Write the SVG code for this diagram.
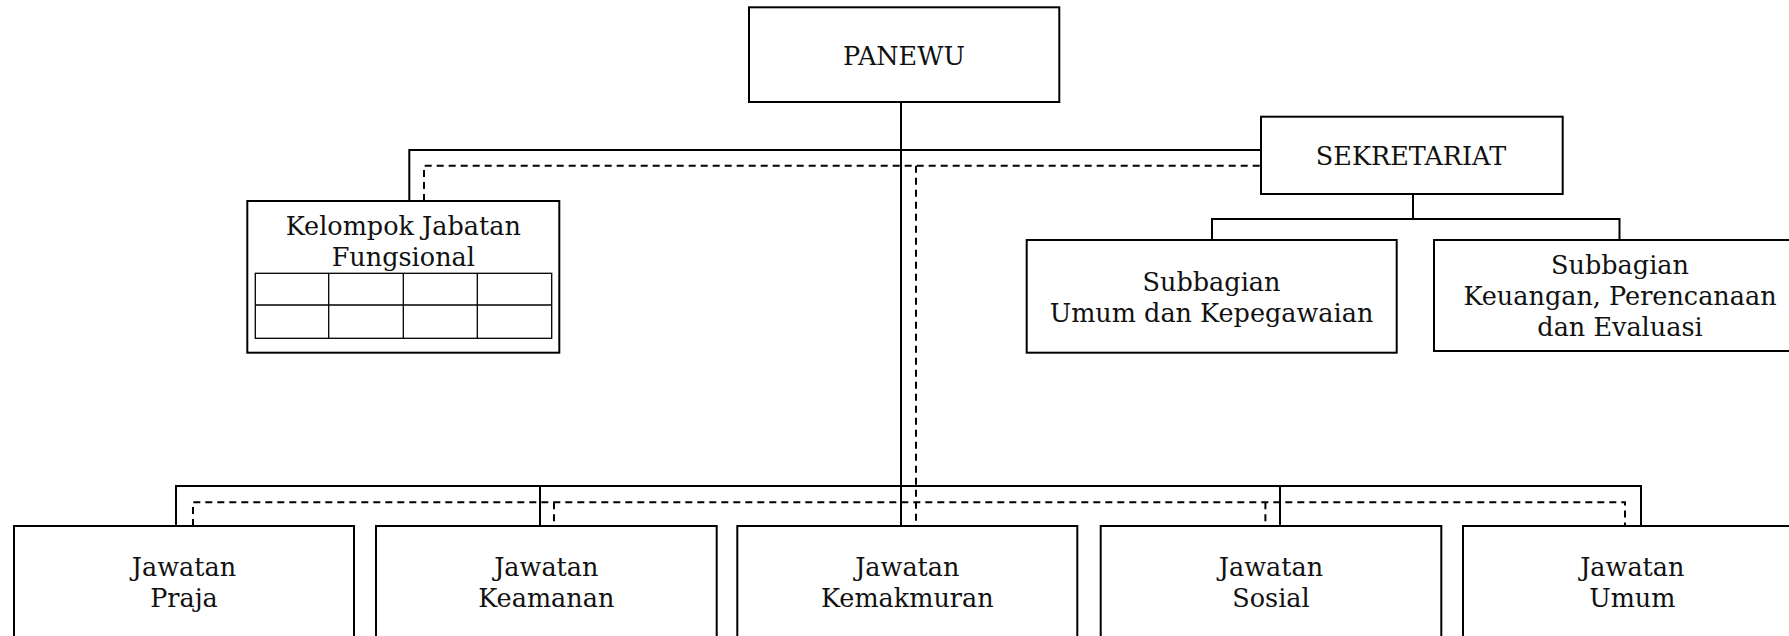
<svg xmlns="http://www.w3.org/2000/svg" width="1789" height="636" viewBox="0 0 1789 636">
<style>
.box{fill:#fff;stroke:#000;stroke-width:2}
.ln{fill:none;stroke:#000;stroke-width:2}
.dash{fill:none;stroke:#000;stroke-width:2;stroke-dasharray:7 5}
.grid{fill:none;stroke:#000;stroke-width:1.3}
text{font-family:"DejaVu Serif","Liberation Serif",serif;font-size:25.5px;fill:#111;text-anchor:middle}
</style>
<rect width="1789" height="636" fill="#fff"/>
<g id="connectors">
<path class="ln" d="M901 102V526"/>
<path class="ln" d="M409.3 201V150H1261"/>
<path class="dash" d="M424 201V165.7H1261"/>
<path class="dash" d="M916 165.7V526"/>
<path class="ln" d="M1413 194V219M1212 240V219H1619.5V240"/>
<path class="ln" d="M176 526V486H1641V526M540 486V526M1280 486V526"/>
<path class="dash" d="M193 526V502.3H1625V526M554 502.3V526M1265.4 502.3V526"/>
</g>
<g id="panewu">
<rect class="box" x="749" y="7.3" width="310.3" height="94.7"/>
<text x="904" y="65">PANEWU</text>
</g>
<g id="sekretariat">
<rect class="box" x="1261" y="116.7" width="301.7" height="77.3"/>
<text x="1411" y="165">SEKRETARIAT</text>
</g>
<g id="kelompok">
<rect class="box" x="247.3" y="201" width="312" height="151.7"/>
<text x="403.3" y="235">Kelompok Jabatan</text>
<text x="403.3" y="265.5">Fungsional</text>
<rect class="grid" x="255.3" y="273.3" width="296.4" height="65"/>
<path class="grid" d="M255.3 305H551.7M328.7 273.3V338.3M403.3 273.3V338.3M477.3 273.3V338.3"/>
</g>
<g id="subbagian-umum">
<rect class="box" x="1026.7" y="240" width="370" height="112.7"/>
<text x="1211.5" y="290.7">Subbagian</text>
<text x="1211.5" y="321.7">Umum dan Kepegawaian</text>
</g>
<g id="subbagian-keuangan">
<rect class="box" x="1434" y="240" width="372" height="111"/>
<text x="1620" y="274">Subbagian</text>
<text x="1620" y="305">Keuangan, Perencanaan</text>
<text x="1620" y="336">dan Evaluasi</text>
</g>
<g id="jawatan-praja">
<rect class="box" x="14" y="526" width="340" height="130"/>
<text x="184" y="576">Jawatan</text>
<text x="184" y="607">Praja</text>
</g>
<g id="jawatan-keamanan">
<rect class="box" x="376" y="526" width="340.7" height="130"/>
<text x="546.3" y="576">Jawatan</text>
<text x="546.3" y="607">Keamanan</text>
</g>
<g id="jawatan-kemakmuran">
<rect class="box" x="737.3" y="526" width="340" height="130"/>
<text x="907.3" y="576">Jawatan</text>
<text x="907.3" y="607">Kemakmuran</text>
</g>
<g id="jawatan-sosial">
<rect class="box" x="1100.7" y="526" width="340.6" height="130"/>
<text x="1271" y="576">Jawatan</text>
<text x="1271" y="607">Sosial</text>
</g>
<g id="jawatan-umum">
<rect class="box" x="1463" y="526" width="340" height="130"/>
<text x="1632.3" y="576">Jawatan</text>
<text x="1632.3" y="607">Umum</text>
</g>
</svg>
